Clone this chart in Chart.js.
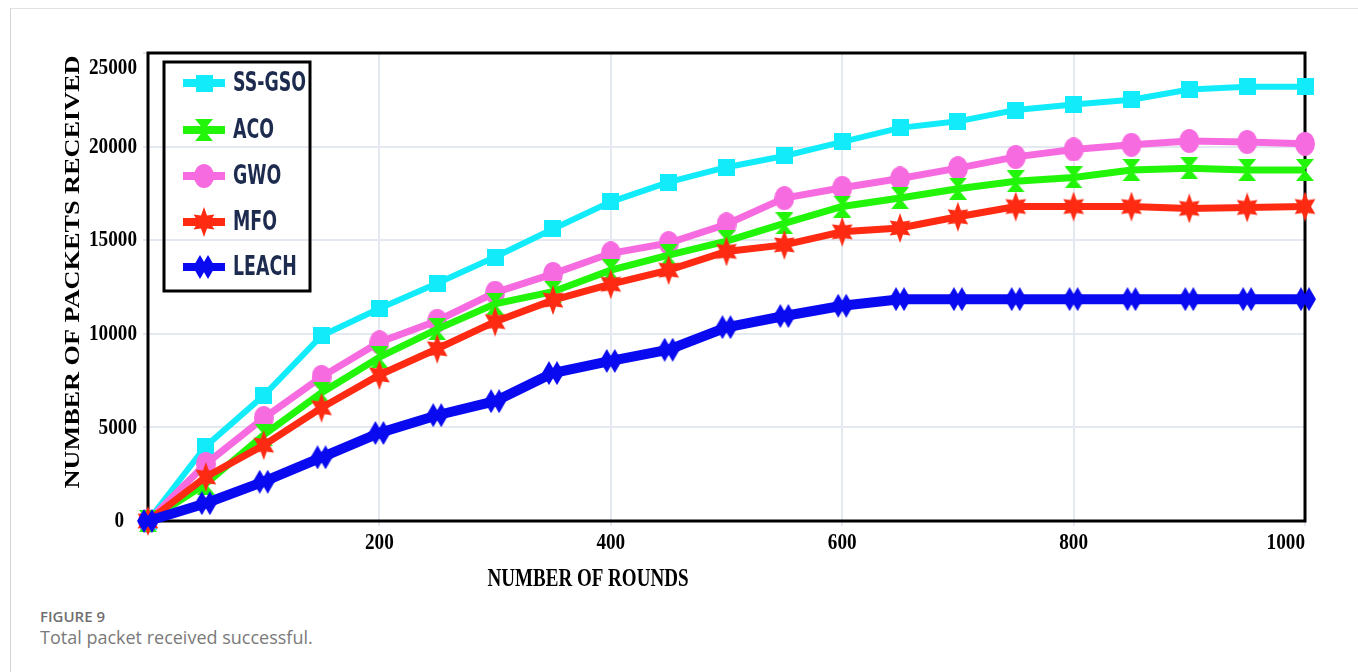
<!DOCTYPE html>
<html>
<head>
<meta charset="utf-8">
<script src="https://cdn.jsdelivr.net/npm/chart.js@4.4.1/dist/chart.umd.min.js"></script>
<style>
  html, body { margin: 0; padding: 0; background: #fff; }
  body { width: 1358px; height: 672px; position: relative; overflow: hidden; }
  .frame { position: absolute; left: 10px; top: 8px; right: 0; bottom: 0; border-left: 1px solid #d4d4d4; border-top: 1px solid #e2e2e2; }
  #wrap { position: absolute; left: 0; top: 0; width: 1358px; height: 600px; }
  .fig { position: absolute; left: 40px; top: 606px; font: 600 15px "Open Sans", sans-serif; color: #6f6f6f; }
  .cap { position: absolute; left: 40px; top: 625px; font: 18px "Open Sans", sans-serif; color: #7a7a7a; }
</style>
</head>
<body>
<div class="frame"></div>
<div id="wrap"><canvas id="chart" width="1358" height="600"></canvas></div>
<div class="fig">FIGURE 9</div>
<div class="cap">Total packet received successful.</div>
<script>
// values
const rounds = [0, 50, 100, 150, 200, 250, 300, 350, 400, 450, 500, 550, 600, 650, 700, 750, 800, 850, 900, 950, 1000];
const ssgso = [0, 4000, 6700, 9900, 11350, 12700, 14100, 15600, 17050, 18100, 18900, 19500, 20250, 21000, 21350, 21950, 22250, 22500, 23050, 23200, 23200];
const aco   = [0, 2000, 4600, 6850, 8750, 10250, 11600, 12250, 13400, 14200, 14950, 15900, 16800, 17250, 17750, 18150, 18350, 18750, 18850, 18750, 18750];
const gwo   = [0, 3050, 5500, 7700, 9550, 10700, 12200, 13200, 14300, 14850, 15850, 17250, 17800, 18300, 18850, 19450, 19850, 20100, 20300, 20250, 20150];
const mfo   = [0, 2350, 4050, 6050, 7800, 9200, 10650, 11800, 12650, 13400, 14400, 14750, 15450, 15650, 16250, 16800, 16800, 16800, 16700, 16750, 16800];
const leach = [0, 950, 2100, 3400, 4700, 5650, 6400, 7900, 8550, 9150, 10350, 10950, 11500, 11850, 11850, 11850, 11850, 11850, 11850, 11850, 11850];

const xTickLabels = [200, 400, 600, 800, 1000];
const yTickLabels = [0, 5000, 10000, 15000, 20000, 25000];
const seriesNames = ["SS-GSO", "ACO", "GWO", "MFO", "LEACH"];

// marker images
function marker(w, h, color, fn) {
  const c = document.createElement('canvas');
  c.width = w; c.height = h;
  const g = c.getContext('2d');
  g.fillStyle = color;
  g.beginPath();
  fn(g, w, h);
  g.fill();
  return c;
}
const sqMark = marker(17, 17, '#12ecfa', (g, w, h) => g.rect(0, 0, w, h));
const hourMark = marker(18, 22, '#22f50a', (g, w, h) => {
  g.moveTo(0, 0); g.lineTo(w, 0); g.lineTo(w / 2, h / 2); g.lineTo(w, h); g.lineTo(0, h); g.lineTo(w / 2, h / 2); g.closePath();
});
const ovalMark = marker(20, 24, '#f76be0', (g, w, h) => g.ellipse(w / 2, h / 2, w / 2, h / 2, 0, 0, Math.PI * 2));
const starMark = marker(24, 30, '#ff2a12', (g, w, h) => {
  for (let i = 0; i < 12; i++) {
    const a = -Math.PI / 2 + i * Math.PI / 6;
    const r = i % 2 === 0 ? 1 : 0.5;
    const px = w / 2 + Math.cos(a) * r * w / 2;
    const py = h / 2 + Math.sin(a) * r * h / 2;
    if (i === 0) g.moveTo(px, py); else g.lineTo(px, py);
  }
  g.closePath();
});
const diaMark = marker(22, 24, '#0a0af0', (g, w, h) => {
  g.moveTo(7, 0); g.lineTo(14, h / 2); g.lineTo(7, h); g.lineTo(0, h / 2); g.closePath();
  g.moveTo(15, 0); g.lineTo(22, h / 2); g.lineTo(15, h); g.lineTo(8, h / 2); g.closePath();
});

const colors = ['#12ecfa', '#22f50a', '#f76be0', '#ff2a12', '#0a0af0'];
const widths = [6, 7, 7, 7, 10];
const marks = [sqMark, hourMark, ovalMark, starMark, diaMark];
const values = [ssgso, aco, gwo, mfo, leach];
const drawOrder = [5, 3, 4, 2, 1];

const datasets = seriesNames.map((name, i) => ({
  label: name,
  data: rounds.map((r, j) => ({ x: r, y: values[i][j] })),
  borderColor: colors[i],
  backgroundColor: colors[i],
  borderWidth: widths[i],
  pointStyle: marks[i],
  pointRadius: 10,
  tension: 0,
  clip: false,
  order: drawOrder[i]
}));

function squashText(ctx, text, x, y, sx, align, rot) {
  ctx.save();
  ctx.translate(x, y);
  if (rot) ctx.rotate(rot);
  ctx.scale(sx, 1);
  ctx.textAlign = align;
  ctx.textBaseline = 'middle';
  ctx.fillText(text, 0, 0);
  ctx.restore();
}

const decor = {
  id: 'decor',
  beforeDatasetsDraw(chart) {
    const { ctx, chartArea: a } = chart;
    ctx.save();
    ctx.strokeStyle = '#000';
    ctx.lineWidth = 3;
    ctx.strokeRect(a.left, a.top, a.right - a.left, a.bottom - a.top);
    ctx.restore();
  },
  afterDraw(chart) {
    const { ctx, chartArea: a, scales } = chart;
    ctx.save();
    ctx.fillStyle = '#000';
    ctx.font = 'bold 24px "Liberation Serif", "Times New Roman", serif';
    yTickLabels.forEach(v => {
      let y = scales.y.getPixelForValue(v);
      y = Math.max(y, a.top + 15);
      squashText(ctx, String(v), v === 0 ? 124 : 137, y, 0.8, 'right');
    });
    xTickLabels.forEach(v => {
      let x = scales.x.getPixelForValue(v);
      const w = ctx.measureText(String(v)).width * 0.8;
      x = Math.min(x, a.right - w / 2);
      squashText(ctx, String(v), x, 543, 0.8, 'center');
    });
    // axis titles
    ctx.font = 'bold 25px "Liberation Serif", "Times New Roman", serif';
    let t = 'NUMBER OF ROUNDS';
    squashText(ctx, t, 588, 580, 201 / ctx.measureText(t).width, 'center');
    ctx.font = 'bold 22px "Liberation Serif", "Times New Roman", serif';
    t = 'NUMBER OF PACKETS RECEIVED';
    squashText(ctx, t, 73, 272, 433 / ctx.measureText(t).width, 'center', -Math.PI / 2);

    // legend box
    ctx.strokeStyle = '#000';
    ctx.lineWidth = 3;
    ctx.strokeRect(164, 62, 146, 229);
    const rowY = [83, 130, 176, 222, 267];
    ctx.font = 'bold 27px "Liberation Sans Narrow", "DejaVu Sans Condensed", "Liberation Sans", sans-serif';
    const sx = 73 / ctx.measureText('SS-GSO').width;
    seriesNames.forEach((name, i) => {
      const y = rowY[i];
      ctx.strokeStyle = colors[i];
      ctx.lineWidth = 8;
      ctx.beginPath();
      ctx.moveTo(183, y); ctx.lineTo(225, y);
      ctx.stroke();
      const m = marks[i];
      ctx.drawImage(m, 204 - m.width / 2, y - m.height / 2);
      ctx.fillStyle = '#1d2b4f';
      squashText(ctx, name, 233, y + 1, sx, 'left');
    });
    ctx.restore();
  }
};

new Chart(document.getElementById('chart'), {
  type: 'line',
  data: { datasets },
  options: {
    responsive: false,
    animation: false,
    layout: { padding: { top: 53, right: 53, left: 0, bottom: 0 } },
    plugins: { legend: { display: false }, tooltip: { enabled: false } },
    scales: {
      x: {
        type: 'linear', min: 0, max: 1000,
        ticks: { stepSize: 200, display: false },
        grid: { color: '#e4e8f0', lineWidth: 2, tickLength: 5 },
        border: { display: false },
        afterFit(s) { s.height = 79; }
      },
      y: {
        min: 0, max: 25000,
        ticks: { stepSize: 5000, display: false },
        grid: { color: '#e4e8f0', lineWidth: 2, tickLength: 5 },
        border: { display: false },
        afterFit(s) { s.width = 148; }
      }
    }
  },
  plugins: [decor]
});
</script>
</body>
</html>
